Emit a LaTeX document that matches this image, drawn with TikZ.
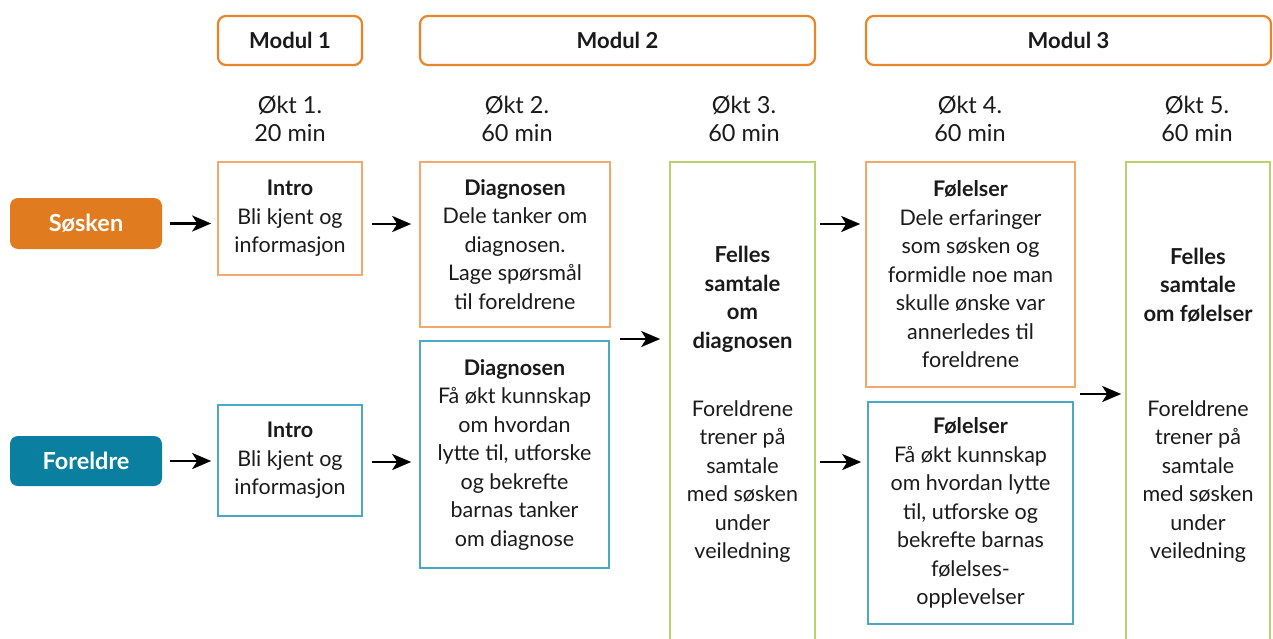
\documentclass[tikz,border=0pt]{standalone}
\usepackage{fontspec}
\setmainfont{Lato}
\usetikzlibrary{arrows.meta,calc}
\definecolor{pillorange}{HTML}{E07B1F}
\definecolor{pillteal}{HTML}{0A7FA0}
\definecolor{modstroke}{HTML}{E8852A}
\definecolor{boxorange}{HTML}{F2A96E}
\definecolor{boxteal}{HTML}{4BA9C6}
\definecolor{boxgreen}{HTML}{B8D36B}
\definecolor{txt}{HTML}{1A1A1A}
\tikzset{
  body/.style={font=\fontsize{21.5}{28.5}\selectfont, text=txt, align=center, inner sep=0pt},
  modbox/.style={draw=modstroke, line width=2.2pt, rounded corners=8pt, inner sep=0pt,
    font=\bfseries\fontsize{22}{25}\selectfont, text=txt},
  oktlabel/.style={font=\fontsize{23.5}{28.5}\selectfont, text=txt, align=center, inner sep=0pt},
  pill/.style={rounded corners=8pt, inner sep=0pt, minimum width=152pt,
    font=\bfseries\fontsize{23.5}{26}\selectfont, text=white},
  obox/.style={body, draw=boxorange, line width=1.6pt},
  tbox/.style={body, draw=boxteal, line width=1.6pt},
  gbox/.style={draw=boxgreen, line width=1.6pt, inner sep=0pt},
  arr/.style={-{Stealth[length=19pt,width=16pt,inset=5pt]}, line width=2.6pt, black},
}
\begin{document}
\begin{tikzpicture}[x=1pt,y=-1pt]
\useasboundingbox (0,0) rectangle (1273,639);
% modules
\node[modbox, minimum width=144pt, minimum height=49pt] (m1) at (290,40.5) {Modul 1};
\node[modbox, minimum width=395pt, minimum height=49pt] (m2) at (617.5,40.5) {Modul 2};
\node[modbox, minimum width=405pt, minimum height=49pt] (m3) at (1068.5,40.5) {Modul 3};
% sessions
\node[oktlabel] (o1) at (290,119) {Økt 1.\\20 min};
\node[oktlabel] (o2) at (517,119) {Økt 2.\\60 min};
\node[oktlabel] (o3) at (744,119) {Økt 3.\\60 min};
\node[oktlabel] (o4) at (970,119) {Økt 4.\\60 min};
\node[oktlabel] (o5) at (1197,119) {Økt 5.\\60 min};
% pills
\node[pill, fill=pillorange, minimum height=51pt] (sos) at (86,223.5) {Søsken};
\node[pill, fill=pillteal, minimum height=50pt] (for) at (86,461) {Foreldre};
% boxes
\node[obox, minimum width=144pt, minimum height=113pt] (introT) at (290,218.5)
  {\textbf{Intro}\\Bli kjent og\\informasjon};
\node[tbox, minimum width=144pt, minimum height=111pt] (introB) at (290,460.5)
  {\textbf{Intro}\\Bli kjent og\\informasjon};
\node[obox, minimum width=190pt, minimum height=165pt] (diagT) at (515,244.5)
  {\textbf{Diagnosen}\\Dele tanker om\\diagnosen.\\Lage spørsmål\\til foreldrene};
\node[tbox, minimum width=189pt, minimum height=227pt] (diagB) at (514.5,454.5)
  {\textbf{Diagnosen}\\Få økt kunnskap\\om hvordan\\lytte til, utforske\\og bekrefte\\barnas tanker\\om diagnose};
\node[gbox, minimum width=145pt, minimum height=540pt] (fel1) at (742.5,432) {};
\node[body, font=\bfseries\fontsize{22}{28.5}\selectfont] (fel1a) at (742.5,299.5)
  {Felles\\samtale\\om\\diagnosen};
\node[body] (fel1b) at (742.5,481.5)
  {Foreldrene\\trener på\\samtale\\med søsken\\under\\veiledning};
\node[obox, minimum width=209pt, minimum height=225pt] (folT) at (970.5,274.5)
  {\textbf{Følelser}\\Dele erfaringer\\som søsken og\\formidle noe man\\skulle ønske var\\annerledes til\\foreldrene};
\node[tbox, minimum width=205pt, minimum height=222pt] (folB) at (970.5,513)
  {\textbf{Følelser}\\Få økt kunnskap\\om hvordan lytte\\til, utforske og\\bekrefte barnas\\følelses-\\opplevelser};
\node[gbox, minimum width=144pt, minimum height=540pt] (fel2) at (1198,432) {};
\node[body, font=\bfseries\fontsize{22}{28.5}\selectfont] (fel2a) at (1198,285)
  {Felles\\samtale\\om følelser};
\node[body] (fel2b) at (1198,481.5)
  {Foreldrene\\trener på\\samtale\\med søsken\\under\\veiledning};
% arrows
\draw[arr, shorten <=8pt, shorten >=6pt] (sos.east) -- (introT.west |- sos.east);
\draw[arr, shorten <=8pt, shorten >=6pt] (for.east) -- (introB.west |- for.east);
\draw[arr, shorten <=9pt, shorten >=8pt] ($(introT.east)+(0,5.5)$) -- ($(diagT.west |- introT.east)+(0,5.5)$);
\draw[arr, shorten <=9pt, shorten >=8pt] ($(introB.east)+(0,1.5)$) -- ($(diagB.west |- introB.east)+(0,1.5)$);
\coordinate (c1) at (610,339);
\draw[arr, shorten <=10pt, shorten >=9pt] (c1) -- (c1 -| fel1.west);
\coordinate (c2) at (815,224);
\coordinate (c3) at (815,462);
\draw[arr, shorten <=5pt, shorten >=5pt] (c2) -- (c2 -| folT.west);
\draw[arr, shorten <=5pt, shorten >=6pt] (c3) -- (c3 -| folB.west);
\coordinate (c4) at (1073,394);
\draw[arr, shorten <=7pt, shorten >=4pt] (c4) -- (c4 -| fel2.west);
\end{tikzpicture}
\end{document}
